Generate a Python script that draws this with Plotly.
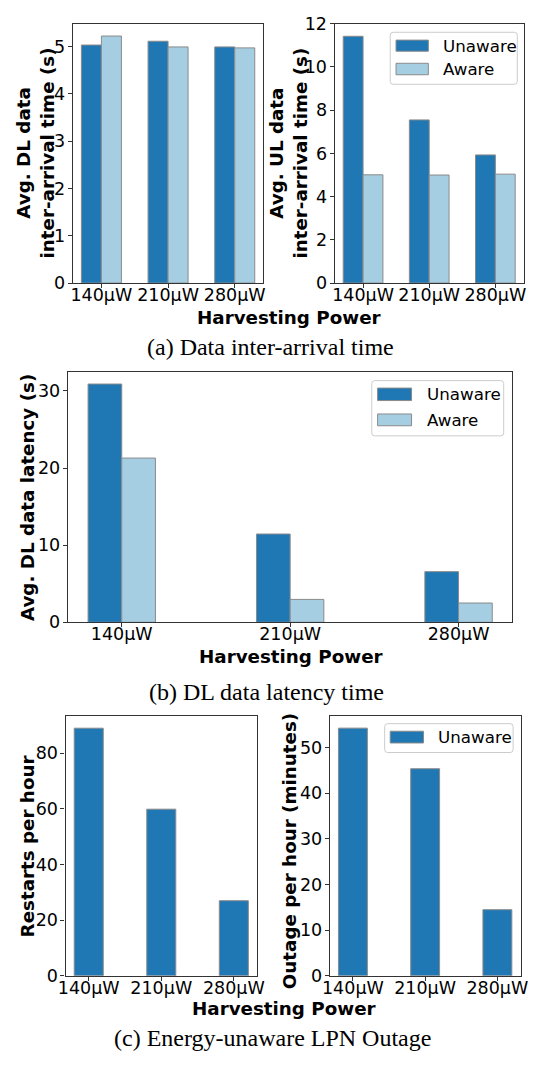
import plotly.graph_objects as go

W, H = 535, 1067

# ---- data -------------------------------------------------------------
power = ["140μW", "210μW", "280μW"]

dl_interarrival_unaware = [5.03, 5.11, 4.99]
dl_interarrival_aware = [5.22, 4.99, 4.97]

ul_interarrival_unaware = [11.42, 7.55, 5.93]
ul_interarrival_aware = [5.01, 5.00, 5.04]

dl_latency_unaware = [30.9, 11.45, 6.57]
dl_latency_aware = [21.3, 2.97, 2.5]

restarts_unaware = [89.0, 59.9, 27.0]
outage_minutes_unaware = [54.3, 45.4, 14.5]

# ---- style ------------------------------------------------------------
DARK = "#1f78b4"
LIGHT = "#a6cee3"
EDGE = "#8a8a8a"
SPINE = "#333333"
FONT = "DejaVu Sans"
SERIF = "Liberation Serif"
TICK_SIZE = 17.5
TITLE_SIZE = 18.3
LEG_SIZE = 16.7
CAP_SIZE = 24


def px(x):
    return x / W


def py(y):
    return 1 - y / H


fig = go.Figure()


def bar(values, color, xa, ya, offset, width, name):
    fig.add_trace(go.Bar(
        x=power, y=values, name=name, xaxis=xa, yaxis=ya,
        offset=offset, width=width,
        marker=dict(color=color, line=dict(color=EDGE, width=1)),
        showlegend=False,
    ))


# (a) left: DL inter-arrival
bar(dl_interarrival_unaware, DARK, "x", "y", -0.3, 0.3, "Unaware")
bar(dl_interarrival_aware, LIGHT, "x", "y", 0.0, 0.3, "Aware")
# (a) right: UL inter-arrival
bar(ul_interarrival_unaware, DARK, "x2", "y2", -0.3, 0.3, "Unaware")
bar(ul_interarrival_aware, LIGHT, "x2", "y2", 0.0, 0.3, "Aware")
# (b) DL latency
bar(dl_latency_unaware, DARK, "x3", "y3", -0.2, 0.2, "Unaware")
bar(dl_latency_aware, LIGHT, "x3", "y3", 0.0, 0.2, "Aware")
# (c) outage
bar(restarts_unaware, DARK, "x4", "y4", -0.2, 0.4, "Unaware")
bar(outage_minutes_unaware, DARK, "x5", "y5", -0.2, 0.4, "Unaware")

panels = {
    # name: (x-domain px, y-domain px, x-range, y-range, dtick)
    "1": ((66.7, 263.3), (14, 278.3), (-0.43, 2.43), (0, 5.48), 1),
    "2": ((336.7, 531.7), (14, 278.3), (-0.43, 2.43), (0, 12.0), 2),
    "3": ((61.7, 520.0), (369, 624), (-0.32, 2.32), (0, 32.45), 10),
    "4": ((59.3, 256.7), (719.3, 984.3), (-0.32, 2.32), (0, 93.45), 20),
    "5": ((331.7, 528.3), (719.3, 984.3), (-0.32, 2.32), (0, 57.0), 10),
}

axis_common = dict(
    showline=True, linecolor=SPINE, linewidth=1.2, mirror=True,
    showgrid=False, zeroline=False,
    ticks="outside", ticklen=4, tickwidth=1, tickcolor=SPINE,
    tickfont=dict(family=FONT, size=TICK_SIZE, color="black"),
)

layout_axes = {}
for k, (xd, yd, xr, yr, dt) in panels.items():
    suffix = "" if k == "1" else k
    layout_axes["xaxis" + suffix] = dict(
        axis_common, domain=[px(xd[0]), px(xd[1])], range=list(xr),
        type="category", anchor="y" + suffix, tickangle=0,
        ticklabelstandoff=-8,
    )
    layout_axes["yaxis" + suffix] = dict(
        axis_common, domain=[py(yd[1]), py(yd[0])], range=list(yr),
        dtick=dt, tick0=0, anchor="x" + suffix, ticklabelstandoff=-1,
    )

fig.update_layout(**layout_axes)

annotations = []


def text(x, y, s, size, family=FONT, angle=0, xanchor="center", yanchor="middle"):
    annotations.append(dict(
        x=px(x), y=py(y), xref="paper", yref="paper", text=s,
        showarrow=False, textangle=angle, xanchor=xanchor, yanchor=yanchor,
        font=dict(family=family, size=size, color="black"),
    ))


# axis titles
text(28, 146, "<b>Avg. DL data<br>inter-arrival time (s)</b>", TITLE_SIZE, angle=-90)
text(289, 146, "<b>Avg. UL data<br>inter-arrival time (s)</b>", TITLE_SIZE, angle=-90)
text(290, 313, "<b>Harvesting Power</b>", TITLE_SIZE)
text(20, 497, "<b>Avg. DL data latency (s)</b>", TITLE_SIZE, angle=-90)
text(292, 659, "<b>Harvesting Power</b>", TITLE_SIZE)
text(20, 852, "<b>Restarts per hour</b>", TITLE_SIZE, angle=-90)
text(291, 857, "<b>Outage per hour (minutes)</b>", TITLE_SIZE, angle=-90)
text(285, 1018, "<b>Harvesting Power</b>", TITLE_SIZE)

# sub-figure captions
text(271, 343, "(a) Data inter-arrival time", CAP_SIZE, family=SERIF)
text(266, 695, "(b) DL data latency time", CAP_SIZE, family=SERIF)
text(273, 1048, "(c) Energy-unaware LPN Outage", CAP_SIZE, family=SERIF)

shapes = []


def rounded_box(x0, y0, x1, y1, r=3):
    rx, ry = r / W, r / H
    X0, X1 = px(x0), px(x1)
    Y0, Y1 = py(y0), py(y1)  # Y0 top, Y1 bottom
    path = (
        f"M {X0+rx},{Y0} L {X1-rx},{Y0} Q {X1},{Y0} {X1},{Y0-ry} "
        f"L {X1},{Y1+ry} Q {X1},{Y1} {X1-rx},{Y1} "
        f"L {X0+rx},{Y1} Q {X0},{Y1} {X0},{Y1+ry} "
        f"L {X0},{Y0-ry} Q {X0},{Y0} {X0+rx},{Y0} Z"
    )
    shapes.append(dict(type="path", xref="paper", yref="paper", path=path,
                       fillcolor="rgba(255,255,255,0.8)",
                       line=dict(color="#cccccc", width=1), layer="above"))


def swatch(x0, y0, x1, y1, color):
    shapes.append(dict(type="rect", xref="paper", yref="paper",
                       x0=px(x0), x1=px(x1), y0=py(y1), y1=py(y0),
                       fillcolor=color, line=dict(color=EDGE, width=1),
                       layer="above"))


# legend of (a) right
rounded_box(394, 22.7, 525, 75.7)
swatch(400, 30.7, 433.3, 42, DARK)
swatch(400, 54.3, 433.3, 66, LIGHT)
text(446.7, 36.3, "Unaware", LEG_SIZE, xanchor="left")
text(446.7, 60.2, "Aware", LEG_SIZE, xanchor="left")

# legend of (b)
rounded_box(375, 377.7, 511, 434)
swatch(381, 385.3, 416, 398, DARK)
swatch(381, 411.7, 416, 423.7, LIGHT)
text(430, 391.7, "Unaware", LEG_SIZE, xanchor="left")
text(430, 417.7, "Aware", LEG_SIZE, xanchor="left")

# legend of (c) right
rounded_box(388.3, 727.3, 520.7, 756.7)
swatch(394, 735, 428.3, 747, DARK)
text(441, 741, "Unaware", LEG_SIZE, xanchor="left")

fig.update_layout(
    width=W, height=H,
    margin=dict(l=0, r=0, t=0, b=0),
    paper_bgcolor="white", plot_bgcolor="white",
    barmode="overlay",
    showlegend=False,
    annotations=annotations,
    shapes=shapes,
)

fig.write_html("out.html")
